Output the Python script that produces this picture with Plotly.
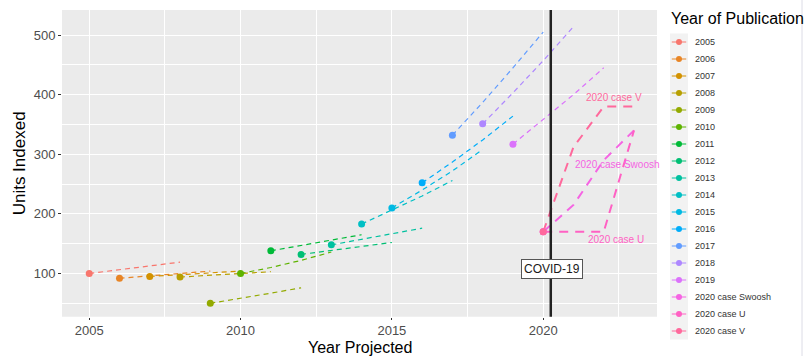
import math
import plotly.graph_objects as go

# ---------------- data ----------------
categories = ["2005", "2006", "2007", "2008", "2009", "2010", "2011", "2012",
              "2013", "2014", "2015", "2016", "2017", "2018", "2019",
              "2020 case Swoosh", "2020 case U", "2020 case V"]
start_years = [2005, 2006, 2007, 2008, 2009, 2010, 2011, 2012, 2013, 2014,
               2015, 2016, 2017, 2018, 2019, 2020, 2020, 2020]
projections = [
    [100, 106, 112, 119],
    [92, 96, 100, 104],
    [95, 98, 101, 104],
    [94, 97, 100, 103],
    [50, 58, 67, 76],
    [100, 110, 122, 136],
    [138, 147, 156, 165],
    [132, 139, 146, 152],
    [148, 157, 166, 176],
    [183, 206, 230, 256],
    [210, 240, 272, 308],
    [252, 287, 324, 364],
    [332, 387, 445, 505],
    [351, 403, 457, 514],
    [317, 358, 400, 445],
    [170, 215, 290, 340],
    [170, 170, 170, 340],
    [170, 312, 380, 380],
]
case_labels = ["2020 case V", "2020 case Swoosh", "2020 case U"]
case_label_x = [2022.35, 2022.45, 2022.4]
case_label_y = [396, 282, 157]
case_label_series = [17, 15, 16]
covid_x = 2020.25
covid_label = "COVID-19"
covid_label_x = 2020.3
covid_label_y = 107
x_ticks = [2005, 2010, 2015, 2020]
y_ticks = [100, 200, 300, 400, 500]

# ---------------- colours (ggplot hue palette) ----------------
def hcl_hex(h, c=100.0, l=65.0):
    hr = math.radians(h)
    U = c * math.cos(hr)
    V = c * math.sin(hr)
    Xn, Yn, Zn = 95.047, 100.0, 108.883
    un = 4 * Xn / (Xn + 15 * Yn + 3 * Zn)
    vn = 9 * Yn / (Xn + 15 * Yn + 3 * Zn)
    Y = Yn * ((l + 16) / 116) ** 3
    u = U / (13 * l) + un
    v = V / (13 * l) + vn
    X = 9 * Y * u / (4 * v)
    Z = -X / 3 - 5 * Y + 3 * Y / v
    X, Y, Z = X / 100, Y / 100, Z / 100
    r = 3.240479 * X - 1.537150 * Y - 0.498535 * Z
    g = -0.969256 * X + 1.875992 * Y + 0.041556 * Z
    b = 0.055648 * X - 0.204043 * Y + 1.057311 * Z

    def gam(t):
        t = 1.055 * t ** (1 / 2.4) - 0.055 if t > 0.00304 else 12.92 * t
        return int(round(min(max(t, 0), 1) * 255))
    return "#%02X%02X%02X" % (gam(r), gam(g), gam(b))

n = len(categories)
colors = [hcl_hex(15 + 360 * i / n) for i in range(n)]

FONT = "Liberation Sans, Arial, Helvetica, sans-serif"
W, H = 807, 356
px_l, px_r, px_t, px_b = 62, 657, 10, 316.7

fig = go.Figure()

# projection lines
for i, cat in enumerate(categories):
    xs = [start_years[i] + k for k in range(len(projections[i]))]
    is_case = cat.startswith("2020")
    fig.add_trace(go.Scatter(
        x=xs, y=projections[i], mode="lines",
        line=dict(color=colors[i], width=2.0 if is_case else 1.2,
                  dash="9px,7px" if is_case else "5px,4px"),
        showlegend=False, hoverinfo="skip", xaxis="x", yaxis="y"))

# start points
fig.add_trace(go.Scatter(
    x=start_years, y=[p[0] for p in projections], mode="markers",
    marker=dict(color=colors, size=7), showlegend=False,
    xaxis="x", yaxis="y"))

# legend drawn as a small subplot
for i, cat in enumerate(categories):
    fig.add_trace(go.Scatter(
        x=[0.1, 0.9], y=[cat, cat], mode="lines",
        line=dict(color=colors[i], width=1.1),
        showlegend=False, hoverinfo="skip", xaxis="x2", yaxis="y2"))
fig.add_trace(go.Scatter(
    x=[0.5] * n, y=categories, mode="markers",
    marker=dict(color=colors, size=6), showlegend=False,
    xaxis="x2", yaxis="y2"))

# case labels
annotations = []
for lab, lx, ly, si in zip(case_labels, case_label_x, case_label_y, case_label_series):
    annotations.append(dict(x=lx, y=ly, xref="x", yref="y", text=lab,
                            showarrow=False, font=dict(size=10, color=colors[si], family=FONT)))
annotations.append(dict(x=covid_label_x, y=covid_label_y, xref="x", yref="y",
                        text=covid_label, showarrow=False,
                        font=dict(size=12, color="#1A1A1A", family=FONT),
                        bgcolor="white", bordercolor="#555555", borderwidth=1, borderpad=2))
annotations.append(dict(x=(px_l + px_r) / 2 / W, y=(H - 347) / H, xref="paper", yref="paper",
                        xanchor="center", yanchor="middle", borderpad=0,
                        text="Year Projected", showarrow=False,
                        font=dict(size=16, color="black", family=FONT)))
annotations.append(dict(x=19 / W, y=(H - (px_t + px_b) / 2) / H, xref="paper", yref="paper",
                        xanchor="center", yanchor="middle",
                        text="Units Indexed", showarrow=False, textangle=-90,
                        font=dict(size=17, color="black", family=FONT)))
annotations.append(dict(x=669 / W, y=(H - 19) / H, xref="paper", yref="paper",
                        text="Year of Publication", showarrow=False,
                        xanchor="left", yanchor="middle",
                        font=dict(size=16, color="black", family=FONT)))

shapes = [
    dict(type="rect", xref="x domain", yref="y domain", x0=0, x1=1, y0=0, y1=1,
         fillcolor="#EBEBEB", line=dict(width=0), layer="below"),
    dict(type="rect", xref="x2 domain", yref="y2 domain", x0=0, x1=1, y0=0, y1=1,
         fillcolor="#F2F2F2", line=dict(width=0), layer="below"),
    dict(type="line", xref="x", yref="y domain", x0=covid_x, x1=covid_x, y0=0, y1=1,
         line=dict(color="#222222", width=2.5), layer="above"),
    dict(type="line", xref="paper", yref="paper", x0=802 / W, x1=802 / W, y0=0, y1=1,
         line=dict(color="#DCDCE6", width=1)),
]

fig.update_layout(
    width=W, height=H,
    margin=dict(l=0, r=0, t=0, b=0),
    paper_bgcolor="white", plot_bgcolor="rgba(0,0,0,0)",
    font=dict(family=FONT),
    showlegend=False,
    annotations=annotations,
    shapes=shapes,
    xaxis=dict(domain=[px_l / W, px_r / W], range=[2004.1, 2023.76],
               tickvals=x_ticks, ticktext=[str(v) for v in x_ticks],
               showgrid=True, gridcolor="white", gridwidth=1.1,
               minor=dict(tickvals=[2007.5, 2012.5, 2017.5, 2022.5], showgrid=True,
                          gridcolor="white", gridwidth=0.5, ticks=""),
               ticks="outside", ticklen=2, tickcolor="#333333", tickwidth=1,
               tickfont=dict(size=13, color="#4D4D4D", family=FONT),
               zeroline=False, showline=False, fixedrange=True, anchor="y"),
    yaxis=dict(domain=[(H - px_b) / H, (H - px_t) / H], range=[27.5, 542],
               tickvals=y_ticks, ticktext=[str(v) for v in y_ticks],
               showgrid=True, gridcolor="white", gridwidth=1.1,
               minor=dict(tickvals=[50, 150, 250, 350, 450], showgrid=True,
                          gridcolor="white", gridwidth=0.5, ticks=""),
               ticks="outside", ticklen=3, tickcolor="#333333", tickwidth=1,
               tickfont=dict(size=13, color="#4D4D4D", family=FONT),
               zeroline=False, showline=False, fixedrange=True, anchor="x"),
    xaxis2=dict(domain=[670 / W, 688 / W], range=[0, 1], visible=False,
                fixedrange=True, anchor="y2"),
    yaxis2=dict(domain=[(H - 339.5) / H, (H - 33.5) / H], type="category",
                categoryorder="array", categoryarray=categories,
                range=[n - 0.5, -0.5], side="right", anchor="x2",
                showgrid=False, zeroline=False, showline=False, ticks="",
                ticklabelstandoff=6,
                tickfont=dict(size=9, color="#333333", family=FONT), fixedrange=True),
)

fig.write_html("out.html", config={"displayModeBar": False},
               post_script="document.body.style.margin='0';document.body.style.overflow='hidden';")
